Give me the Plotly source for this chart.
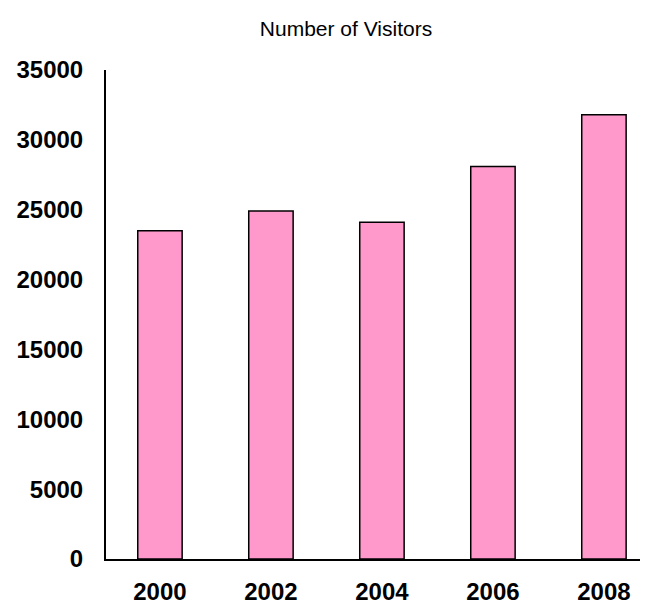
import plotly.graph_objects as go

years = ["2000", "2002", "2004", "2006", "2008"]
visitors = [23500, 24900, 24100, 28100, 31800]
y_ticks = [0, 5000, 10000, 15000, 20000, 25000, 30000, 35000]

fig = go.Figure()
fig.add_trace(go.Bar(
    x=years, y=visitors, width=0.4,
    marker=dict(color="#FF99CC", line=dict(color="black", width=1.5)),
))

fig.update_layout(
    width=648, height=604,
    margin=dict(l=98, r=0, t=62, b=53),
    paper_bgcolor="white", plot_bgcolor="white",
    showlegend=False,
    title=dict(text="Number of Visitors", x=338/648, xref="container",
               y=1-20.5/604, yref="container", xanchor="center", yanchor="middle",
               font=dict(family="Liberation Sans, Arial", size=21, color="black")),
)
fig.update_xaxes(
    type="category", range=[-0.486, 4.469],
    showline=True, linecolor="black", linewidth=2, showgrid=False, ticks="",
    tickfont=dict(family="Liberation Sans, Arial", size=24, color="black", weight="bold"),
    ticklabelstandoff=10,
)
fig.update_yaxes(
    range=[0, 35000], tickvals=y_ticks, ticktext=[str(v) for v in y_ticks],
    showline=True, linecolor="black", linewidth=2, showgrid=False, zeroline=False, ticks="",
    tickfont=dict(family="Liberation Sans, Arial", size=24, color="black", weight="bold"),
    ticklabelstandoff=16,
)

fig.write_html("out.html")
